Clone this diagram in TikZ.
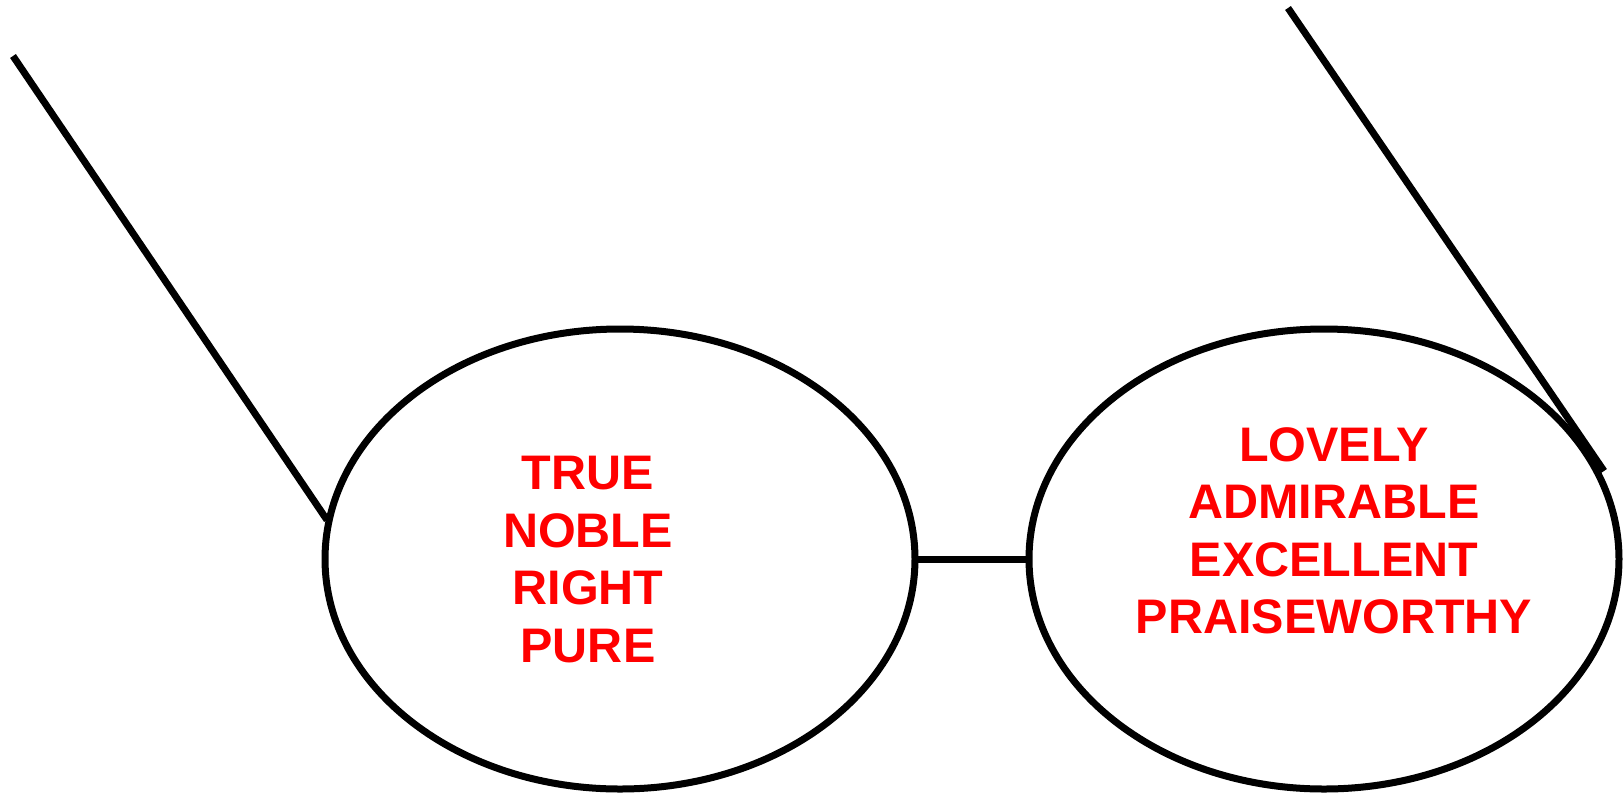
\documentclass[tikz,border=0pt]{standalone}
\usepackage{fontspec}
\setmainfont{Liberation Sans}
\usetikzlibrary{shapes.geometric}
\begin{document}
\begin{tikzpicture}[x=1pt,y=-1pt,
  lens/.style={draw=black,line width=7pt,ellipse,inner sep=0pt,minimum width=590pt,minimum height=460pt},
  rim/.style={draw=black,line width=7pt},
  words/.style={text=red,font=\fontsize{48.5}{57.5}\selectfont\bfseries,align=center,inner sep=0pt,anchor=north}]
\useasboundingbox (0,0) rectangle (1623,796);
\node[lens] (L) at (620,559) {};
\node[lens] (R) at (1324,559) {};
\node[words] (LT) at (588,456) {TRUE\\NOBLE\\RIGHT\\PURE};
\node[words] (RT) at (1334,427) {LOVELY\\ADMIRABLE\\EXCELLENT\\PRAISEWORTHY};
\coordinate (la) at (13,56);
\coordinate (lb) at (327,520);
\coordinate (ra) at (1288,8);
\coordinate (rb) at (1604,471);
\draw[rim,shorten <=-5pt,shorten >=-5pt] (L.east) -- (R.west);
\draw[rim] (la) -- (lb);
\draw[rim] (ra) -- (rb);
\end{tikzpicture}
\end{document}
